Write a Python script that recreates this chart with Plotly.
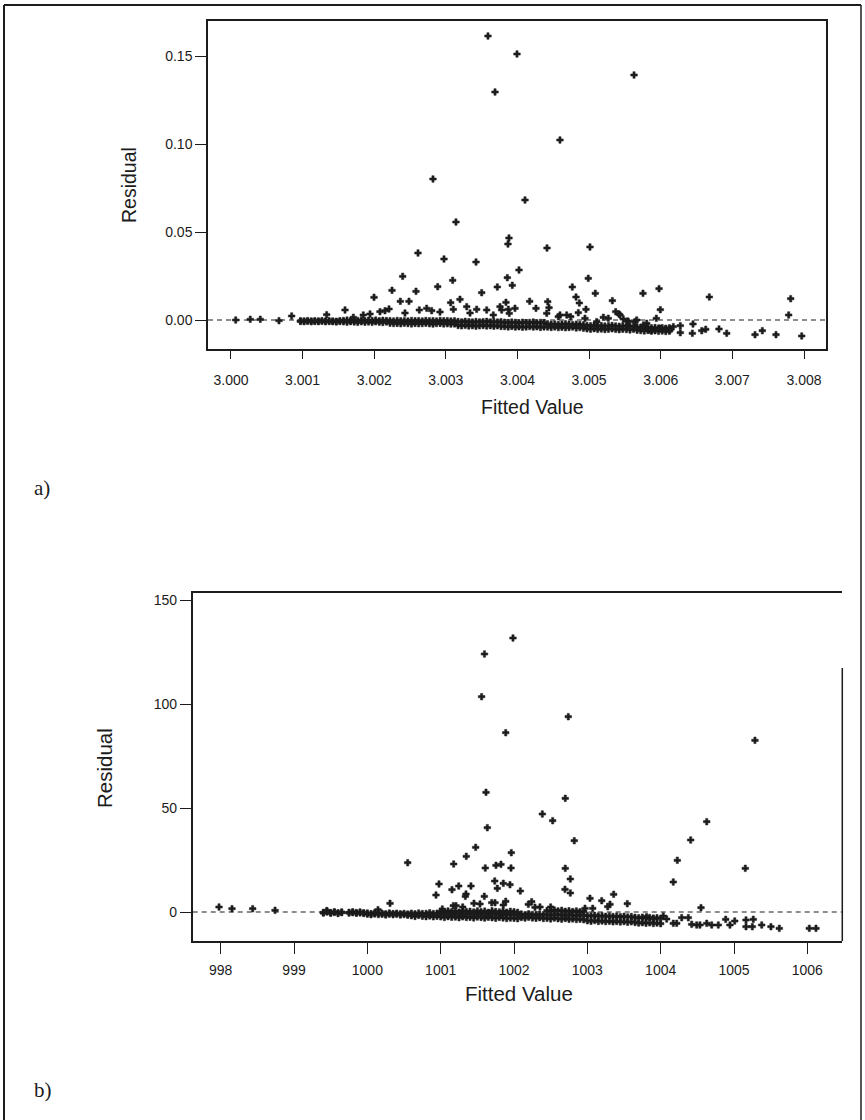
import plotly.graph_objects as go

W, H = 865, 1120

# ---------------- panel a ----------------
# isolated residuals
fit_a_out = [
    3.003588, 3.003993, 3.005627, 3.003686, 3.004593, 3.002820,
    3.004105, 3.003141, 3.003881, 3.003867, 3.004412, 3.005012,
    3.002611, 3.002974, 3.003421, 3.002397, 3.003858, 3.003095,
    3.004021, 3.004988, 3.002248, 3.002583, 3.002886, 3.003500,
    3.003718, 3.003927, 3.004765, 3.005086, 3.005752, 3.005976,
    3.006678, 3.007814, 3.001997, 3.002364, 3.002485, 3.003067,
    3.003197, 3.003839, 3.005324, 3.004817, 3.004863, 3.004422,
    3.004170, 3.001592, 3.001336, 3.000847, 3.000409, 3.000269,
    3.000066, 3.000670, 3.001708, 3.001847, 3.002080, 3.002150,
    3.002206, 3.002629, 3.002732, 3.002802, 3.003291, 3.003430,
    3.003570, 3.003756, 3.003872, 3.003965, 3.004956, 3.004849,
    3.004440, 3.004258, 3.005994, 3.005938, 3.005371, 3.005417,
    3.005198, 3.004593, 3.004743, 3.007786, 3.007968, 3.007609,
    3.007418, 3.007316, 3.006921, 3.006813, 3.006628, 3.006572,
    3.006441, 3.006450, 3.006273, 3.006273, 3.006175, 3.006069,
    3.006129, 3.005874, 3.005990, 3.005804, 3.005641, 3.005539,
    3.005477, 3.003662, 3.003779, 3.003885, 3.004408, 3.004570,
    3.004687, 3.004942, 3.005106, 3.005268, 3.005431, 3.005547,
    3.005664, 3.005757, 3.005850, 3.002429, 3.002918, 3.003337,
    3.003104, 3.001941,
]
res_a_out = [
    0.16136, 0.15114, 0.13920, 0.12955, 0.10227, 0.08011,
    0.06818, 0.05568, 0.04659, 0.04318, 0.04091, 0.04148,
    0.03807, 0.03466, 0.03295, 0.02483, 0.02403, 0.02256,
    0.02841, 0.02369, 0.01688, 0.01631, 0.01892, 0.01551,
    0.01875, 0.01972, 0.01875, 0.01517, 0.01517, 0.01778,
    0.01307, 0.01210, 0.01290, 0.01063, 0.01063, 0.00983,
    0.01176, 0.01006, 0.01097, 0.01307, 0.00966, 0.01040,
    0.01063, 0.00568, 0.00301, 0.00227, 0.00040, 0.00040,
    0.00000, -0.00040, 0.00153, 0.00284, 0.00472, 0.00528,
    0.00625, 0.00568, 0.00665, 0.00528, 0.00756, 0.00608,
    0.00568, 0.00756, 0.00608, 0.00665, 0.00608, 0.00415,
    0.00699, 0.00665, 0.00585, 0.00097, 0.00472, 0.00341,
    0.00153, 0.00284, 0.00188, 0.00284, -0.00909, -0.00835,
    -0.00608, -0.00835, -0.00756, -0.00511, -0.00528, -0.00608,
    -0.00756, -0.00227, -0.00324, -0.00722, -0.00381, -0.00528,
    -0.00568, -0.00568, -0.00472, -0.00188, -0.00097, -0.00057,
    0.00057, 0.00284, 0.00568, 0.00381, 0.00381, 0.00188,
    0.00284, 0.00097, -0.00097, 0.00097, 0.00284, -0.00097,
    0.00000, -0.00284, -0.00568, 0.00398, 0.00455, 0.00398,
    0.00608, 0.00341,
]
# dense core of the cloud: upper and lower residual at each fitted value
core_a_fit = [
    3.00097, 3.00102, 3.00107, 3.00112, 3.00117, 3.00122, 3.00127, 3.00132, 3.00137, 3.00142, 3.00147, 3.00152,
    3.00157, 3.00162, 3.00167, 3.00172, 3.00177, 3.00182, 3.00187, 3.00192, 3.00197, 3.00202, 3.00207, 3.00212, 3.00217,
    3.00222, 3.00227, 3.00232, 3.00237, 3.00242, 3.00247, 3.00252, 3.00257, 3.00262, 3.00267, 3.00272, 3.00277, 3.00282, 3.00287, 3.00292, 3.00297, 3.00302, 3.00307, 3.00312,
    3.00317, 3.00322, 3.00327, 3.00332, 3.00337, 3.00342, 3.00347, 3.00352, 3.00357, 3.00362, 3.00367, 3.00372, 3.00377,
    3.00382, 3.00387, 3.00392, 3.00397, 3.00402, 3.00407, 3.00412, 3.00417, 3.00422, 3.00427, 3.00432, 3.00437,
    3.00442, 3.00447, 3.00452, 3.00457, 3.00462, 3.00467, 3.00472, 3.00477, 3.00482, 3.00487, 3.00492,
    3.00497, 3.00502, 3.00507, 3.00512, 3.00517, 3.00522, 3.00527, 3.00532, 3.00537, 3.00542, 3.00547, 3.00552, 3.00557, 3.00562,
    3.00567, 3.00572, 3.00577, 3.00582, 3.00587, 3.00592, 3.00597, 3.00602, 3.00607, 3.00612,
]
core_a_hi = [
    -0.0005, -0.0006, -0.0004, -0.0006, -0.0005, -0.0006, -0.0004, -0.0006, -0.0005, -0.0006, -0.0007, -0.0005,
    -0.0003, -0.0001, -0.0004, -0.0002, -0.0003, 0.0000, -0.0004, -0.0002, -0.0003, -0.0001, -0.0004, -0.0002, -0.0003,
    -0.0004, -0.0006, -0.0003, -0.0005, -0.0004, -0.0006, -0.0003, -0.0005, -0.0004, -0.0006, -0.0003, -0.0005, -0.0004, -0.0006, -0.0003, -0.0005, -0.0004, -0.0006, -0.0005,
    -0.0009, -0.0011, -0.0008, -0.0010, -0.0012, -0.0009, -0.0011, -0.0010, -0.0008, -0.0011, -0.0009, -0.0012, -0.0010,
    -0.0013, -0.0015, -0.0012, -0.0014, -0.0016, -0.0013, -0.0015, -0.0014, -0.0012, -0.0016, -0.0014, -0.0015,
    -0.0022, -0.0025, -0.0023, -0.0026, -0.0024, -0.0022, -0.0025, -0.0027, -0.0024, -0.0026, -0.0028,
    -0.0031, -0.0033, -0.0030, -0.0034, -0.0032, -0.0035, -0.0033, -0.0031, -0.0034, -0.0036, -0.0033, -0.0035, -0.0037, -0.0034,
    -0.0040, -0.0042, -0.0044, -0.0041, -0.0045, -0.0043, -0.0046, -0.0044, -0.0047, -0.0045,
]
core_a_lo = [
    -0.0008, -0.0009, -0.0007, -0.0010, -0.0008, -0.0009, -0.0007, -0.0010, -0.0008, -0.0009, -0.0011, -0.0008,
    -0.0010, -0.0012, -0.0009, -0.0011, -0.0013, -0.0010, -0.0012, -0.0011, -0.0013, -0.0010, -0.0012, -0.0014, -0.0011,
    -0.0018, -0.0020, -0.0019, -0.0021, -0.0018, -0.0020, -0.0022, -0.0019, -0.0021, -0.0020, -0.0018, -0.0021, -0.0023, -0.0020, -0.0019, -0.0022, -0.0021, -0.0023, -0.0022,
    -0.0031, -0.0033, -0.0030, -0.0034, -0.0032, -0.0035, -0.0033, -0.0031, -0.0034, -0.0032, -0.0035, -0.0033, -0.0036,
    -0.0037, -0.0039, -0.0036, -0.0040, -0.0038, -0.0041, -0.0039, -0.0037, -0.0040, -0.0038, -0.0042, -0.0039,
    -0.0040, -0.0042, -0.0039, -0.0043, -0.0041, -0.0044, -0.0042, -0.0040, -0.0045, -0.0043, -0.0046,
    -0.0050, -0.0052, -0.0049, -0.0053, -0.0051, -0.0054, -0.0052, -0.0050, -0.0053, -0.0055, -0.0052, -0.0054, -0.0056, -0.0053,
    -0.0058, -0.0060, -0.0062, -0.0059, -0.0063, -0.0061, -0.0064, -0.0062, -0.0065, -0.0063,
]

# ---------------- panel b ----------------
fit_b_out = [
    1001.986, 1001.597, 1001.558, 1002.740, 1001.887, 1005.286,
    1001.618, 1002.699, 1002.386, 1002.527, 1004.628, 1001.636,
    1002.822, 1004.409, 1001.477, 1001.963, 1001.349, 1004.227,
    1000.550, 1001.177, 1001.754, 1001.822, 1001.608, 1001.959,
    1005.154, 1002.699, 1002.768, 1001.737, 1004.172, 1001.854,
    1000.977, 1001.945, 1001.413, 1001.246, 1001.772, 1001.154,
    1002.695, 1002.086, 1002.768, 1003.359, 1000.936, 1001.345,
    1001.336, 1001.595, 1003.036, 1003.196, 1002.241, 1001.887,
    1001.696, 1001.741, 1001.454, 1001.536, 1000.309, 1003.545,
    1002.195, 1003.309, 1001.854, 1001.172, 1001.209, 1003.278,
    1001.300, 1002.354, 1002.500, 1002.286, 1004.550, 1002.968,
    1003.073, 1001.022, 1000.145, 997.977, 998.154, 998.436,
    998.741, 1004.036, 1004.172, 1004.219, 1004.287, 1004.377,
    1004.423, 1004.491, 1004.536, 1004.628, 1004.696, 1004.786,
    1004.887, 1004.945, 1005.010, 1005.164, 1005.263, 1005.164,
    1005.250, 1005.378, 1005.504, 1005.618, 1006.027, 1006.118,
    1004.082, 1003.809, 1003.899, 999.446,
]
res_b_out = [
    131.73, 124.04, 103.51, 93.89, 86.20, 82.55,
    57.55, 54.66, 47.12, 43.89, 43.41, 40.53,
    34.28, 34.62, 31.11, 28.51, 26.78, 24.86,
    23.70, 23.08, 22.45, 22.93, 21.15, 21.15,
    21.01, 21.01, 15.87, 14.90, 14.42, 13.80,
    13.46, 13.13, 12.50, 12.50, 11.39, 10.72,
    10.91, 10.10, 9.13, 8.51, 8.17, 8.65,
    7.55, 7.55, 6.59, 5.43, 4.95, 5.14,
    4.47, 4.47, 4.18, 3.85, 4.18, 3.99,
    3.70, 3.70, 3.37, 3.03, 3.03, 2.55,
    2.40, 2.40, 2.40, 2.26, 2.07, 1.78,
    1.78, 1.44, 1.11, 2.40, 1.59, 1.59,
    0.82, -1.92, -5.43, -5.43, -2.74, -2.74,
    -5.91, -6.25, -6.25, -5.43, -6.25, -6.25,
    -3.51, -6.25, -4.33, -3.85, -3.51, -7.07,
    -7.07, -6.25, -7.07, -7.84, -7.84, -7.84,
    -3.37, -2.26, -3.03, 0.64,
]
core_b_fit = [
    999.40, 999.45, 999.50, 999.55, 999.60, 999.65,
    999.75, 999.80, 999.85, 999.90, 999.95,
    1000.00, 1000.05, 1000.10, 1000.15, 1000.20, 1000.25, 1000.30, 1000.35, 1000.40, 1000.45, 1000.50, 1000.55,
    1000.60, 1000.65, 1000.70, 1000.75, 1000.80, 1000.85, 1000.90, 1000.95,
    1001.00, 1001.05, 1001.10, 1001.15, 1001.20, 1001.25, 1001.30, 1001.35, 1001.40, 1001.45, 1001.50,
    1001.55, 1001.60, 1001.65, 1001.70, 1001.75, 1001.80, 1001.85, 1001.90, 1001.95, 1002.00, 1002.05,
    1002.10, 1002.15, 1002.20, 1002.25, 1002.30, 1002.35, 1002.40,
    1002.45, 1002.50, 1002.55, 1002.60, 1002.65, 1002.70, 1002.75, 1002.80, 1002.85, 1002.90, 1002.95,
    1003.00, 1003.05, 1003.10, 1003.15, 1003.20, 1003.25, 1003.30, 1003.35, 1003.40, 1003.45, 1003.50, 1003.55, 1003.60,
    1003.65, 1003.70, 1003.75, 1003.80, 1003.85, 1003.90, 1003.95, 1004.00,
]
core_b_hi = [
    -0.2, 0.4, -0.3, 0.1, -0.4, 0.0,
    -0.2, 0.1, -0.3, 0.0, -0.4,
    -0.5, -0.8, -0.4, -0.7, -0.6, -0.9, -0.5, -0.8, -0.6, -0.9, -0.7, -1.0,
    -0.6, -0.9, -0.5, -0.8, -0.7, -0.4, -0.8, -0.6,
    0.3, 0.0, 0.5, 0.1, 0.4, -0.1, 0.6, 0.2, 0.3, 0.0, 0.5,
    0.1, 0.4, -0.2, 0.6, 0.2, 0.0, 0.4, -0.1, 0.3, 0.1, -0.2,
    -1.0, -1.3, -0.9, -1.2, -1.4, -1.1, -1.3,
    0.7, 0.4, 0.9, 0.5, 0.8, 0.3, 0.6, 0.2, 0.5, 0.1, 0.3,
    -1.7, -1.9, -1.6, -2.0, -1.8, -2.1, -1.9, -2.2, -2.0, -2.3, -2.1, -2.4, -2.2,
    -2.6, -2.8, -2.5, -2.9, -2.7, -3.0, -2.8, -3.1,
]
core_b_lo = [
    -0.5, 0.0, -0.6, -0.2, -0.7, -0.3,
    -0.5, -0.3, -0.6, -0.4, -0.7,
    -1.0, -1.3, -0.9, -1.2, -1.1, -1.4, -1.0, -1.3, -1.1, -1.4, -1.2, -1.5,
    -1.8, -2.1, -1.6, -2.0, -2.2, -1.9, -2.3, -2.0,
    -2.3, -2.6, -2.2, -2.5, -2.4, -2.7, -2.3, -2.6, -2.5, -2.8, -2.4,
    -2.6, -2.9, -2.5, -2.7, -3.0, -2.6, -2.8, -3.1, -2.9, -3.0, -3.2,
    -2.6, -2.9, -2.5, -2.8, -3.0, -2.7, -3.1,
    -3.0, -3.3, -2.9, -3.2, -3.4, -3.1, -3.5, -3.3, -3.6, -3.4, -3.7,
    -4.2, -4.4, -4.1, -4.5, -4.3, -4.6, -4.4, -4.7, -4.5, -4.8, -4.6, -4.9, -4.7,
    -5.0, -5.3, -5.1, -5.4, -5.2, -5.5, -5.3, -5.6,
]
# third row where the core is thickest
core_b_mid_fit = [
    1001.00, 1001.05, 1001.10, 1001.15, 1001.20, 1001.25, 1001.30, 1001.35, 1001.40, 1001.45, 1001.50,
    1001.55, 1001.60, 1001.65, 1001.70, 1001.75, 1001.80, 1001.85, 1001.90, 1001.95, 1002.00, 1002.05,
    1002.45, 1002.50, 1002.55, 1002.60, 1002.65, 1002.70, 1002.75, 1002.80, 1002.85, 1002.90, 1002.95,
]
core_b_mid = [
    -1.0, -0.8, -1.2, -0.9, -1.1, -0.7, -1.3, -1.0, -0.9, -1.2, -0.8,
    -1.1, -1.0, -1.3, -0.9, -1.2, -1.0, -1.4, -1.1, -1.3, -1.2, -1.5,
    -1.2, -1.5, -1.1, -1.4, -1.3, -1.6, -1.2, -1.5, -1.7, -1.4, -1.6,
]

# ---------------- axes ----------------
xticks_a = [3.000, 3.001, 3.002, 3.003, 3.004, 3.005, 3.006, 3.007, 3.008]
xlabels_a = ["3.000", "3.001", "3.002", "3.003", "3.004", "3.005", "3.006", "3.007", "3.008"]
yticks_a = [0.00, 0.05, 0.10, 0.15]
ylabels_a = ["0.00", "0.05", "0.10", "0.15"]
xticks_b = [998, 999, 1000, 1001, 1002, 1003, 1004, 1005, 1006]
xlabels_b = ["998", "999", "1000", "1001", "1002", "1003", "1004", "1005", "1006"]
yticks_b = [0, 50, 100, 150]
ylabels_b = ["0", "50", "100", "150"]

xrange_a = [2.999679, 3.008307]
yrange_a = [-0.01648, 0.16989]
xrange_b = [997.618, 1006.477]
yrange_b = [-13.94, 153.37]

INK = "#1c1c1c"
SANS = "Liberation Sans, Arial, Helvetica, sans-serif"
SERIF = "Liberation Serif, Times New Roman, serif"


def px(x):
    return x / W


def py(y):
    return 1 - y / H


marker = dict(symbol="cross", size=5.5, color=INK, line=dict(width=0.5, color=INK))

fig = go.Figure()
fig.add_trace(go.Scatter(
    x=core_a_fit + core_a_fit + fit_a_out,
    y=core_a_hi + core_a_lo + res_a_out,
    mode="markers", marker=marker, xaxis="x", yaxis="y",
    hoverinfo="x+y",
))
fig.add_trace(go.Scatter(
    x=core_b_fit + core_b_fit + core_b_mid_fit + fit_b_out,
    y=core_b_hi + core_b_lo + core_b_mid + res_b_out,
    mode="markers", marker=marker, xaxis="x2", yaxis="y2",
    hoverinfo="x+y",
))

axis_common = dict(
    showgrid=False, zeroline=False, ticks="outside", tickwidth=1,
    tickcolor=INK, showline=True, linecolor=INK, linewidth=1.5,
    tickfont=dict(family=SANS, size=14, color=INK),
)

fig.update_layout(
    width=W, height=H, margin=dict(l=0, r=0, t=0, b=0),
    paper_bgcolor="white", plot_bgcolor="white", showlegend=False,
    xaxis=dict(domain=[px(208), px(826)], anchor="y", range=xrange_a,
               tickvals=xticks_a, ticktext=xlabels_a, ticklen=8,
               mirror=True, ticklabelstandoff=9, **axis_common),
    yaxis=dict(domain=[py(349), py(21)], anchor="x", range=yrange_a,
               tickvals=yticks_a, ticktext=ylabels_a, ticklen=11,
               mirror=True, **axis_common),
    xaxis2=dict(domain=[px(192.7), px(842.3)], anchor="y2", range=xrange_b,
                tickvals=xticks_b, ticktext=xlabels_b, ticklen=11,
                mirror=True, ticklabelstandoff=4, **axis_common),
    yaxis2=dict(domain=[py(941), py(593)], anchor="x2", range=yrange_b,
                tickvals=yticks_b, ticktext=ylabels_b, ticklen=11,
                mirror=False, **axis_common),
)

shapes = [
    # zero reference lines
    dict(type="line", xref="x", yref="y", x0=xrange_a[0], x1=xrange_a[1], y0=0, y1=0,
         line=dict(color=INK, width=1.2, dash="5px,4px")),
    dict(type="line", xref="x2", yref="y2", x0=xrange_b[0], x1=xrange_b[1], y0=0, y1=0,
         line=dict(color=INK, width=1.2, dash="5px,4px")),
    # right edge of panel b frame
    dict(type="line", xref="paper", yref="paper", x0=px(842.3), x1=px(842.3),
         y0=py(668), y1=py(941), line=dict(color=INK, width=1.5)),
    # outer border of the figure
    dict(type="line", xref="paper", yref="paper", x0=px(4), x1=px(4), y0=py(5), y1=0,
         line=dict(color=INK, width=2)),
    dict(type="line", xref="paper", yref="paper", x0=px(4), x1=px(861), y0=py(5), y1=py(5),
         line=dict(color=INK, width=2)),
    dict(type="line", xref="paper", yref="paper", x0=px(861), x1=px(861), y0=py(5), y1=0,
         line=dict(color=INK, width=1.5)),
]
fig.update_layout(shapes=shapes)

title_font_a = dict(family=SANS, size=19.5, color=INK)
title_font_b = dict(family=SANS, size=20.5, color=INK)
annotations = [
    dict(text="Residual", x=px(129), y=py(185), textangle=-90, font=title_font_a),
    dict(text="Fitted Value", x=px(532), y=py(407), font=title_font_a),
    dict(text="Residual", x=px(104), y=py(768), textangle=-90, font=title_font_b),
    dict(text="Fitted Value", x=px(519), y=py(993), font=title_font_b),
    dict(text="a)", x=px(42), y=py(488), font=dict(family=SERIF, size=21, color=INK)),
    dict(text="b)", x=px(43), y=py(1090), font=dict(family=SERIF, size=21, color=INK)),
]
for a in annotations:
    a.update(xref="paper", yref="paper", showarrow=False, xanchor="center", yanchor="middle")
fig.update_layout(annotations=annotations)

fig.write_html("out.html")
